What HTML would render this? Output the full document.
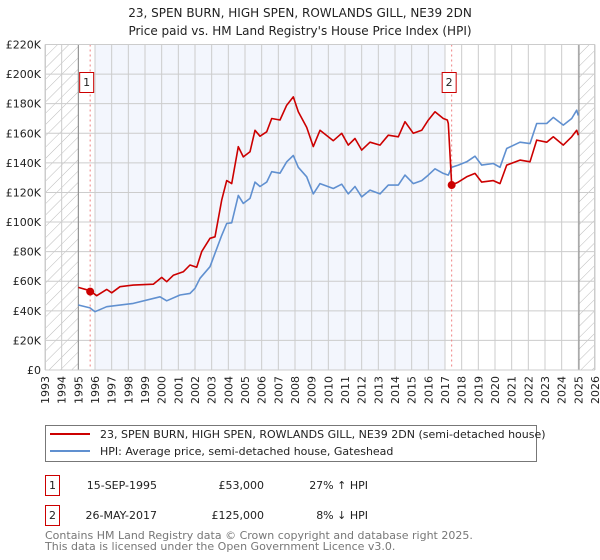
<!DOCTYPE html>
<html><head><meta charset="utf-8"><style>
body{margin:0;background:#fff;}
svg{display:block;font-family:"DejaVu Sans","Liberation Sans",sans-serif;}
</style></head><body>
<svg id="chart" width="600" height="560" viewBox="0 0 600 560">
<text x="300" y="17" text-anchor="middle" font-size="12" fill="#222">23, SPEN BURN, HIGH SPEN, ROWLANDS GILL, NE39 2DN</text>
<text x="300" y="35" text-anchor="middle" font-size="12" fill="#222">Price paid vs. HM Land Registry's House Price Index (HPI)</text>
<defs><pattern id="hatch" patternUnits="userSpaceOnUse" width="8" height="8" patternTransform="rotate(45)"><line x1="0" y1="0" x2="0" y2="8" stroke="#bbb" stroke-width="1"/></pattern></defs>
<g id="plot"></g>
<g id="legend">
<rect x="45.5" y="425.5" width="491" height="36" fill="#fff" stroke="#777"/>
<line x1="50" y1="434" x2="90" y2="434" stroke="#cc0000" stroke-width="2"/>
<text x="100" y="438" font-size="11" fill="#222">23, SPEN BURN, HIGH SPEN, ROWLANDS GILL, NE39 2DN (semi-detached house)</text>
<line x1="50" y1="451" x2="90" y2="451" stroke="#6090d0" stroke-width="2"/>
<text x="100" y="455" font-size="11" fill="#222">HPI: Average price, semi-detached house, Gateshead</text>
</g>
<g font-size="11" fill="#222">
<rect x="45.5" y="475.5" width="14" height="20" fill="#fff" stroke="#cc0000"/>
<text x="52.5" y="489" text-anchor="middle">1</text>
<text x="157" y="489" text-anchor="end">15-SEP-1995</text>
<text x="264" y="489" text-anchor="end">£53,000</text>
<text x="368" y="489" text-anchor="end">27% ↑ HPI</text>
<rect x="45.5" y="505.5" width="14" height="20" fill="#fff" stroke="#cc0000"/>
<text x="52.5" y="519" text-anchor="middle">2</text>
<text x="157" y="519" text-anchor="end">26-MAY-2017</text>
<text x="264" y="519" text-anchor="end">£125,000</text>
<text x="368" y="519" text-anchor="end">8% ↓ HPI</text>
</g>
<text x="45" y="539" font-size="11" fill="#777">Contains HM Land Registry data © Crown copyright and database right 2025.</text>
<text x="45" y="550" font-size="11" fill="#777">This data is licensed under the Open Government Licence v3.0.</text>
</svg>
<script>
const yTicks=[0,20,40,60,80,100,120,140,160,180,200,220];
const yTickLabels=["£0","£20K","£40K","£60K","£80K","£100K","£120K","£140K","£160K","£180K","£200K","£220K"];
const years=[1993,1994,1995,1996,1997,1998,1999,2000,2001,2002,2003,2004,2005,2006,2007,2008,2009,2010,2011,2012,2013,2014,2015,2016,2017,2018,2019,2020,2021,2022,2023,2024,2025,2026];
const hpiDates=[1995.0,1995.7,1996.0,1996.7,1998.3,1999.9,2000.3,2001.1,2001.7,2002.0,2002.3,2002.9,2003.6,2003.9,2004.2,2004.6,2004.9,2005.3,2005.6,2005.9,2006.3,2006.6,2007.1,2007.5,2007.9,2008.2,2008.7,2009.1,2009.5,2010.3,2010.8,2011.2,2011.6,2012.0,2012.5,2013.1,2013.6,2014.2,2014.6,2015.1,2015.6,2016.0,2016.4,2016.9,2017.2,2017.4,2017.8,2018.3,2018.8,2019.2,2019.9,2020.3,2020.7,2021.5,2022.1,2022.5,2023.1,2023.5,2024.1,2024.6,2024.9,2025.0];
const hpiValues=[43.9,42,39.4,42.8,45,49.5,46.8,50.7,51.8,55.2,62,69.8,91,99,99.5,118,112.6,116,127,124,127,134,133,140.7,145,137,130.6,119,126,122.7,125.6,119,124,117,121.6,119,125,125,131.7,126,128,131.7,136,132.9,131.7,137,138.5,140.7,144.5,138.5,139.6,137,149.7,154,153,166.6,166.6,170.7,165.5,170,175.6,172];
const propDates=[1995.0,1995.7,1996.1,1996.7,1997.0,1997.5,1998.3,1999.5,2000.0,2000.3,2000.7,2001.3,2001.7,2002.1,2002.4,2002.9,2003.2,2003.6,2003.9,2004.2,2004.6,2004.9,2005.3,2005.6,2005.9,2006.3,2006.6,2007.1,2007.5,2007.9,2008.2,2008.7,2009.1,2009.5,2010.3,2010.8,2011.2,2011.6,2012.0,2012.5,2013.1,2013.6,2014.2,2014.6,2015.1,2015.6,2016.0,2016.4,2016.9,2017.14,2017.2,2017.4,2017.8,2018.3,2018.8,2019.2,2019.9,2020.3,2020.7,2021.5,2022.1,2022.5,2023.1,2023.5,2024.1,2024.6,2024.9,2025.0];
const propValues=[55.8,53.6,50.2,54.5,52.2,56.3,57.4,58,62.6,59.7,64,66.4,71,69.4,80,89,90,114.8,128,126,150.9,144,147.5,162,158,161,170,169,179,184.6,174.5,164,151,162,155,160,152,156.5,148.6,154,152,158.7,157.6,167.8,160,162,168.9,174.5,170,169,166.6,125,127,130.6,132.9,127,128,126,138.5,141.9,140.7,155.4,154,157.6,152,157.6,162,158.7];
const saleDates=[1995.71,2017.4];
const saleValues=[53,125];
const saleLabels=["1","2"];

const NS="http://www.w3.org/2000/svg";
const L=45,R=595,T=44.5,B=370;
const x=y=>L+(y-1993)/(2026-1993)*(R-L);
const yv=v=>B-v/220*(B-T);
const g=document.getElementById('plot');
function mk(tag,attrs){const e=document.createElementNS(NS,tag);for(const k in attrs)e.setAttribute(k,attrs[k]);g.appendChild(e);return e;}
let e;
e=mk('rect',{x:L,y:T,width:R-L,height:B-T,fill:'#fff'});


e=mk('rect',{x:x(1996),y:T,width:x(2017)-x(1996),height:B-T,fill:'#f3f6fd'});


e=mk('rect',{x:L,y:T,width:x(1995)-L,height:B-T,fill:'url(#hatch)'});


e=mk('rect',{x:x(2025.04),y:T,width:R-x(2025.04),height:B-T,fill:'url(#hatch)'});


yTicks.forEach((t,i)=>{
 e=mk('line',{x1:L,x2:R,y1:yv(t),y2:yv(t),stroke:'#ccc','stroke-width':1});
 
 
 e=mk('text',{x:L-4,y:yv(t)+4,'text-anchor':'end','font-size':11,fill:'#222'});
 e.textContent=yTickLabels[i];
 
 
});
years.forEach(yr=>{
 e=mk('line',{x1:x(yr),x2:x(yr),y1:T,y2:B,stroke:'#ccc','stroke-width':1});
 
 
 e=mk('text',{x:0,y:0,'font-size':11,fill:'#222','text-anchor':'end',transform:`translate(${x(yr)+4},${B+6}) rotate(-90)`});
 e.textContent=yr;
 
 
});
e=mk('line',{x1:x(1995),x2:x(1995),y1:T,y2:B,stroke:'#888','stroke-width':1});


e=mk('line',{x1:x(2025.04),x2:x(2025.04),y1:T,y2:B,stroke:'#888','stroke-width':1});


saleDates.forEach((d,i)=>{
 e=mk('line',{x1:x(d),x2:x(d),y1:T,y2:B,stroke:'#f08080','stroke-width':1,'stroke-dasharray':'2,3'});
 
 
});
const pts=(ds,vs)=>ds.map((d,i)=>x(d).toFixed(1)+','+yv(vs[i]).toFixed(1)).join(' ');
e=mk('polyline',{points:pts(hpiDates,hpiValues),fill:'none',stroke:'#6090d0','stroke-width':1.6,'stroke-linejoin':'round'});


e=mk('polyline',{points:pts(propDates,propValues),fill:'none',stroke:'#cc0000','stroke-width':1.6,'stroke-linejoin':'round'});


saleDates.forEach((d,i)=>{
 e=mk('circle',{cx:x(d),cy:yv(saleValues[i]),r:4,fill:'#cc0000'});
 
 
 const bx=x(d)-(i==0?10:9);
 e=mk('rect',{x:bx-0.5,y:72.5,width:14,height:20,fill:'#fff',stroke:'#cc0000'});
 
 
 e=mk('text',{x:bx+6.5,y:86,'text-anchor':'middle','font-size':11,fill:'#222'});
 e.textContent=saleLabels[i];
 
 
});
e=mk('rect',{x:L+0.5,y:T,width:R-L-1,height:B-T,fill:'none',stroke:'#ccc'});


</script>
</body></html>
